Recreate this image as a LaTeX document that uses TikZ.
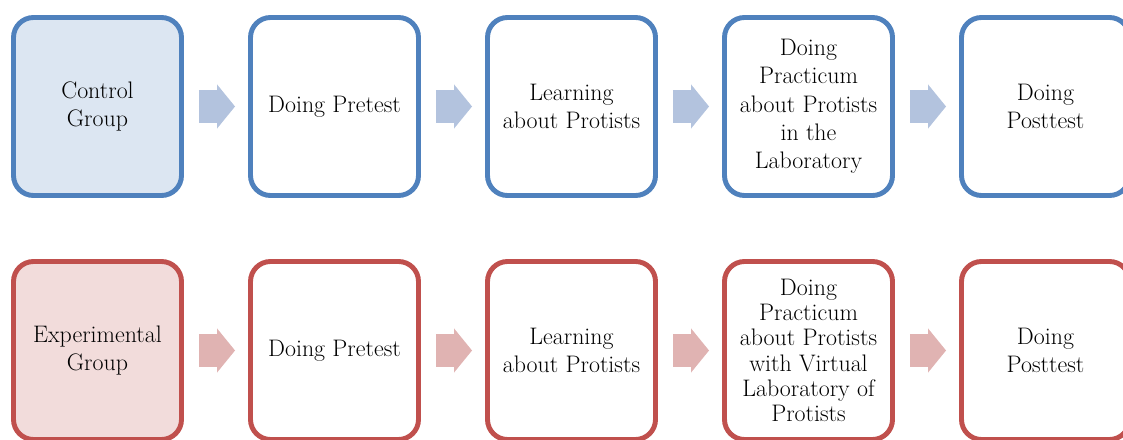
\documentclass[tikz,border=0pt]{standalone}
\usepackage{fontspec}
\usepackage{xcolor}
\usetikzlibrary{arrows.meta,positioning}
\definecolor{ctrlblue}{HTML}{4F81BD}
\definecolor{ctrlfill}{HTML}{DCE6F2}
\definecolor{ctrlarrow}{HTML}{B3C3DE}
\definecolor{expred}{HTML}{C0504D}
\definecolor{expfill}{HTML}{F2DCDB}
\definecolor{exparrow}{HTML}{E0B3B2}
\tikzset{
  stepbox/.style={draw, line width=3.5pt, rounded corners=0.5cm, align=center,
    minimum width=4.2cm, minimum height=4.45cm, inner sep=2pt, fill=white,
    font=\fontsize{17}{20.1}\selectfont},
  tightbox/.style={font=\fontsize{17}{18}\selectfont},
  blockarr/.style={-{Triangle[length=0.45cm, width=1.08cm]}, line width=0.82cm,
    shorten <=0.375cm, shorten >=0.325cm},
}

\begin{document}
\begin{tikzpicture}[
  ctrl/.style={stepbox, draw=ctrlblue},
  expt/.style={stepbox, draw=expred},
]
  \useasboundingbox (0,0) rectangle (28.075,-11);

  % Top row
  \node[ctrl, fill=ctrlfill] (c1) at (2.4375,-2.6625) {Control\\Group};
  \node[ctrl] (c2) at (8.3625,-2.6625) {Doing Pretest};
  \node[ctrl] (c3) at (14.2875,-2.6625) {Learning\\about Protists};
  \node[ctrl] (c4) at (20.2125,-2.6625) {Doing\\Practicum\\about Protists\\in the\\Laboratory};
  \node[ctrl] (c5) at (26.1375,-2.6625) {Doing\\Posttest};

  % Bottom row
  \node[expt, fill=expfill] (e1) at (2.4375,-8.7625) {Experimental\\Group};
  \node[expt] (e2) at (8.3625,-8.7625) {Doing Pretest};
  \node[expt] (e3) at (14.2875,-8.7625) {Learning\\about Protists};
  \node[expt, tightbox] (e4) at (20.2125,-8.7625) {Doing\\Practicum\\about Protists\\with Virtual\\Laboratory of\\Protists};
  \node[expt] (e5) at (26.1375,-8.7625) {Doing\\Posttest};

  \draw[blockarr, draw=ctrlarrow, fill=ctrlarrow] (c1) -- (c2);
  \draw[blockarr, draw=ctrlarrow, fill=ctrlarrow] (c2) -- (c3);
  \draw[blockarr, draw=ctrlarrow, fill=ctrlarrow] (c3) -- (c4);
  \draw[blockarr, draw=ctrlarrow, fill=ctrlarrow] (c4) -- (c5);

  \draw[blockarr, draw=exparrow, fill=exparrow] (e1) -- (e2);
  \draw[blockarr, draw=exparrow, fill=exparrow] (e2) -- (e3);
  \draw[blockarr, draw=exparrow, fill=exparrow] (e3) -- (e4);
  \draw[blockarr, draw=exparrow, fill=exparrow] (e4) -- (e5);

\end{tikzpicture}
\end{document}
